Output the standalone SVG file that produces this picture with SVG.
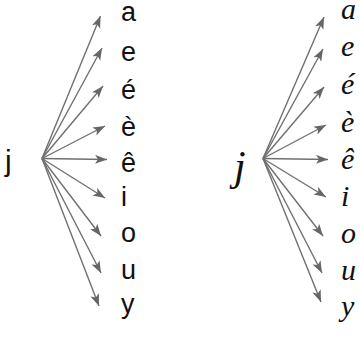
<svg xmlns="http://www.w3.org/2000/svg" width="361" height="348" viewBox="0 0 361 348">
<style>
.c{stroke:#707070;stroke-width:1.4;fill:none;marker-end:url(#ah)}
.s{font-family:"Liberation Sans",Arial,sans-serif;font-size:27px;fill:#111}
.k{font-family:"Liberation Serif","DejaVu Serif",serif;font-style:italic;font-size:30px;fill:#111}
</style>
<defs>
<marker id="ah" markerUnits="userSpaceOnUse" markerWidth="13" markerHeight="10" refX="12" refY="4.5" orient="auto">
<path d="M0,0 L12,4.5 L0,9 L3,4.5 z" fill="#666"/>
</marker>
</defs>
<rect width="361" height="348" fill="#fff"/>
<g id="connectors">
<line class="c" x1="42" y1="158.5" x2="100.5" y2="16"/>
<line class="c" x1="42" y1="158.5" x2="102" y2="48"/>
<line class="c" x1="42" y1="158.5" x2="103" y2="86"/>
<line class="c" x1="42" y1="158.5" x2="105" y2="126"/>
<line class="c" x1="42" y1="158.5" x2="107" y2="159.5"/>
<line class="c" x1="42" y1="158.5" x2="105" y2="198"/>
<line class="c" x1="42" y1="158.5" x2="101" y2="236"/>
<line class="c" x1="42" y1="158.5" x2="101" y2="273"/>
<line class="c" x1="42" y1="158.5" x2="99" y2="306"/>
<line class="c" x1="263" y1="158.5" x2="324" y2="17"/>
<line class="c" x1="263" y1="158.5" x2="323" y2="49"/>
<line class="c" x1="263" y1="158.5" x2="324" y2="87"/>
<line class="c" x1="263" y1="158.5" x2="326" y2="125"/>
<line class="c" x1="263" y1="158.5" x2="328" y2="159.5"/>
<line class="c" x1="263" y1="158.5" x2="326" y2="197"/>
<line class="c" x1="263" y1="158.5" x2="323" y2="236"/>
<line class="c" x1="263" y1="158.5" x2="322" y2="273"/>
<line class="c" x1="263" y1="158.5" x2="321" y2="302"/>
</g>
<g id="j-print"><text class="s" x="5" y="171" style="font-size:30px">j</text></g>
<g id="print-a"><text class="s" x="121" y="21">a</text></g>
<g id="print-e"><text class="s" x="121" y="61">e</text></g>
<g id="print-e-acute"><text class="s" x="121" y="99">é</text></g>
<g id="print-e-grave"><text class="s" x="121" y="136">è</text></g>
<g id="print-e-circ"><text class="s" x="121" y="172">ê</text></g>
<g id="print-i"><text class="s" x="121" y="206">i</text></g>
<g id="print-o"><text class="s" x="121" y="242">o</text></g>
<g id="print-u"><text class="s" x="121" y="279">u</text></g>
<g id="print-y"><text class="s" x="121" y="313">y</text></g>
<g id="j-cursive"><text class="k" x="234" y="180" style="font-size:42px">j</text></g>
<g id="cursive-a"><text class="k" x="341" y="19">a</text></g>
<g id="cursive-e"><text class="k" x="341" y="56">e</text></g>
<g id="cursive-e-acute"><text class="k" x="341" y="94">é</text></g>
<g id="cursive-e-grave"><text class="k" x="341" y="132">è</text></g>
<g id="cursive-e-circ"><text class="k" x="341" y="169">ê</text></g>
<g id="cursive-i"><text class="k" x="341" y="206">i</text></g>
<g id="cursive-o"><text class="k" x="341" y="243">o</text></g>
<g id="cursive-u"><text class="k" x="341" y="280">u</text></g>
<g id="cursive-y"><text class="k" x="341" y="316">y</text></g>
</svg>
